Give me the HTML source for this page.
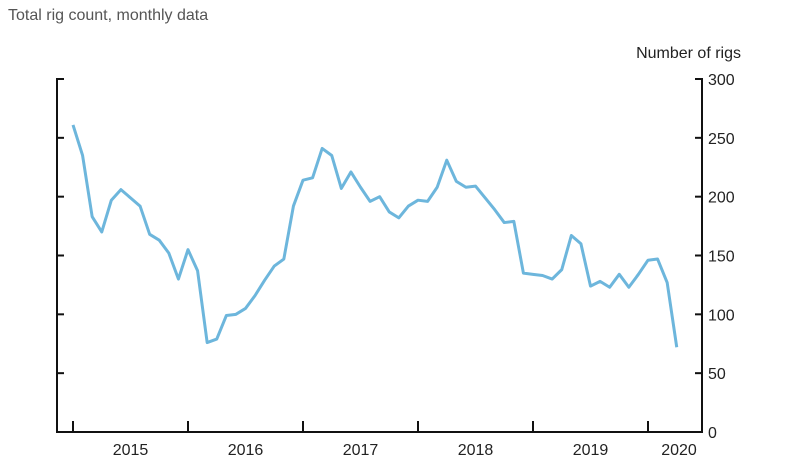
<!DOCTYPE html>
<html><head><meta charset="utf-8"><style>
body{margin:0;background:#fff;}
svg{display:block;font-family:"Liberation Sans",sans-serif;}
</style></head><body>
<svg id="chart" width="801" height="473">
<text x="8" y="20" font-size="16" fill="#555">Total rig count, monthly data</text>
<text x="741" y="58" font-size="16" fill="#222" text-anchor="end">Number of rigs</text>
<g id="axes"></g>
<polyline id="line" fill="none" stroke="#6db6dc" stroke-width="3" stroke-linejoin="round"/>
</svg>
<script>
const values=[261,235,183,170,197,206,199,192,168,163,152,130,155,137,76,79,99,100,105,116,129,141,147,192,214,216,241,235,207,221,208,196,200,187,182,192,197,196,208,231,213,208,209,199,189,178,179,135,134,133,130,138,167,160,124,128,123,134,123,134,146,147,127,72];
const yTicks=[0,50,100,150,200,250,300];
const years=["2015","2016","2017","2018","2019","2020"];
const x0=73,monthW=115/12,left=57,right=702,yTop=79,yBot=432;
const X=i=>x0+i*monthW;
const Y=v=>yBot-(v/300)*(yBot-yTop);
const ns="http://www.w3.org/2000/svg";
const g=document.getElementById('axes');
function mk(t,a){const e=document.createElementNS(ns,t);for(const k in a)e.setAttribute(k,a[k]);g.appendChild(e);return e;}
let e;
e=mk('path',{d:`M${left+7},${yTop}H${left}V${yBot}H${right}V${yTop}H${right-7}`,fill:'none',stroke:'#111','stroke-width':2});


yTicks.forEach(v=>{
 if(v>0&&v<300){
 e=mk('line',{x1:left,x2:left+7,y1:Y(v),y2:Y(v),stroke:'#111','stroke-width':2});
 
 
 e=mk('line',{x1:right-7,x2:right,y1:Y(v),y2:Y(v),stroke:'#111','stroke-width':2});
 
 }
 e=mk('text',{x:708,y:Y(v)+6,'font-size':16,fill:'#222'});
 e.textContent=v;
 
 
});
years.forEach((yr,i)=>{
 const xs=X(i*12);
 e=mk('line',{x1:xs,x2:xs,y1:yBot,y2:yBot-11,stroke:'#111','stroke-width':2});
 
 
 const cx=i<5?xs+115/2:X(60)+(right-X(60))*0.5+4;
 e=mk('text',{x:cx,y:455,'font-size':16,fill:'#222','text-anchor':'middle'});
 e.textContent=yr;
 
 
});
document.getElementById('line').setAttribute('points',values.map((v,i)=>X(i)+','+Y(v)).join(' '));
</script>
</body></html>
